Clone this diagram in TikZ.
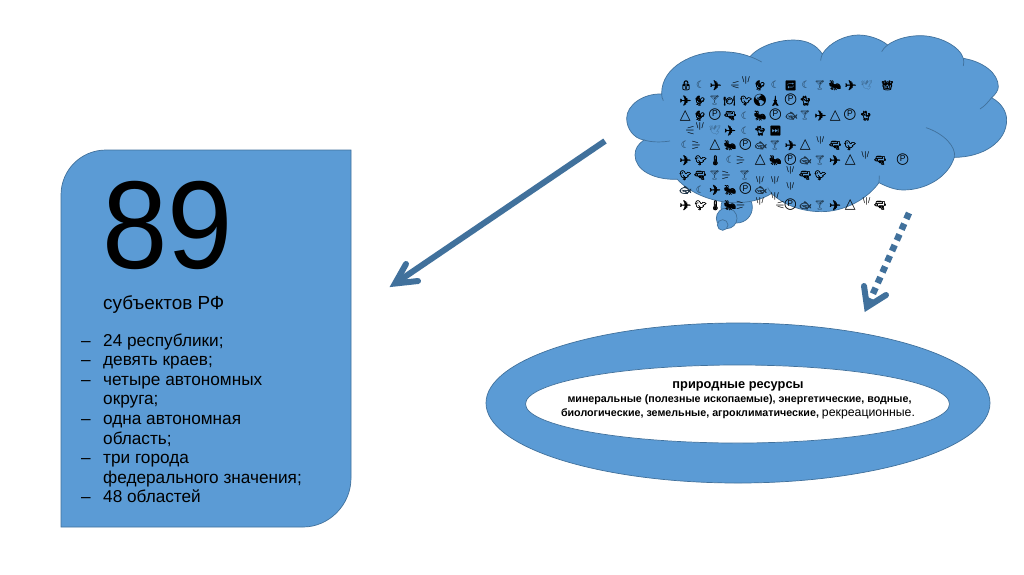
\documentclass[tikz,border=0pt]{standalone}
\usepackage{fontspec}
\setmainfont{Liberation Sans}
\newfontfamily\djv{DejaVu Sans}
\newfontfamily\djvb[FakeBold=1.5]{DejaVu Sans}
\newfontfamily\emo[FakeBold=2.2]{Noto Emoji}
\newfontfamily\emol{Noto Emoji}
\usetikzlibrary{arrows.meta}
\definecolor{fillblue}{HTML}{5B9BD5}
\definecolor{lineblue}{HTML}{41719C}
\newcommand{\Pl}{{\djvb\fontsize{14}{14}\selectfont ✈}}
\newcommand{\Mo}{{\color{black!55!lineblue}\djv\fontsize{10}{10}\selectfont ☾}}
\newcommand{\Tr}{{\djv\fontsize{14}{14}\selectfont △}}
\newcommand{\Pp}{{\ooalign{\hfil\raisebox{1.6pt}{\fontsize{8.5}{8.5}\selectfont P}\hfil\cr{\djv\fontsize{15}{15}\selectfont ○}\cr}}}
\newcommand{\Lk}{{\emo 🔓}}
\newcommand{\Rs}{{\emo 🐓}}
\newcommand{\Sw}{{\emo 🔁}}
\newcommand{\Gl}{{\color{black!55!lineblue}\emol 🍸}}
\newcommand{\Bu}{{\emo 🐜}}
\newcommand{\Dv}{{\color{lineblue}\emol 🕊}}
\newcommand{\Cr}{{\emo 👑}}
\newcommand{\Ca}{{\emo 🐈}}
\newcommand{\Pt}{{\emo 🍽}}
\newcommand{\Fe}{{\emo 🐦}}
\newcommand{\Ea}{{\emol\fontsize{12}{12}\selectfont 🌎}}
\newcommand{\To}{{\emo 🗼}}
\newcommand{\Gu}{{\emo 🔫}}
\newcommand{\Wi}{{\color{black!55!lineblue}\emo 🐟}}
\newcommand{\Ff}{{\emo ⏭}}
\newcommand{\Th}{{\emo 🌡}}
\newcommand{\Ry}{\textbackslash\kern0.5pt|\kern0.5pt/}
\newcommand{\Rz}{\rotatebox{-90}{\Ry}}
\tikzset{
  shapeblue/.style={fill=fillblue,draw=lineblue,line width=0.7pt},
  cloudline/.style={draw=lineblue,line width=0.7pt},
  gly/.style={inner sep=0pt,font=\fontsize{9.5}{10}\selectfont},
  ray/.style={inner sep=0pt,font=\fontsize{8}{8}\selectfont},
  txt/.style={inner sep=0pt,anchor=base west,font=\fontsize{17.2}{20}\selectfont},
  restxt/.style={inner sep=0pt,anchor=base,font=\fontsize{10.7}{12}\selectfont\bfseries},
  arrowline/.style={draw=lineblue,line width=6pt},
  arrowhead/.style={draw=lineblue,line width=6pt,line cap=round,line join=miter},
}
\begin{document}
\begin{tikzpicture}[x=1pt,y=-1pt]
\useasboundingbox (0,0) rectangle (1024,574);
\fill[white] (0,0) rectangle (1024,574);
% left box
\draw[shapeblue] (61,527) -- (61,195) .. controls (61,170) and (81,150) .. (106,150) -- (351,150) -- (351,478)
  .. controls (351,505) and (329,527) .. (303,527) -- cycle;
\node[inner sep=0,anchor=base west,font=\fontsize{125}{125}\selectfont] (num) at (102,268) {\scalebox{0.94}[1]{89}};
\node[txt,font=\fontsize{18.9}{22}\selectfont] (subj) at (103,309) {субъектов РФ};
\foreach \i/\yy/\d/\t in {1/346/–/24 республики;,2/365.6/–/девять краев;,3/385.2/–/четыре автономных,4/404.8//округа;,5/424.4/–/одна автономная,6/444//область;,7/463.6/–/три города,8/483.2//федерального значения;,9/502.8/–/48 областей}{
  \node[txt] (li\i) at (103,\yy) {\t};
  \node[txt] (da\i) at (81,\yy) {\d};
}
% ring
\path[shapeblue] (738,403) ellipse [x radius=252,y radius=80];
\path[draw=lineblue,line width=0.7pt,fill=white] (737.5,404) ellipse [x radius=212,y radius=39];
\node[restxt,font=\fontsize{12.8}{14}\selectfont\bfseries] (r1) at (738,388) {природные ресурсы};
\node[restxt] (r2) at (739.5,402) {минеральные (полезные ископаемые), энергетические, водные,};
\node[restxt] (r3) at (738,416) {биологические, земельные, агроклиматические, {\mdseries\fontsize{12.3}{14}\selectfont рекреационные.}};
% cloud
\begin{scope}[shift={(620,30)},x=0.3333pt,y=-0.3333pt]
\path[shapeblue] (350,532) circle [radius=47];
\path[shapeblue] (320,565) circle [radius=31];
\path[shapeblue] (308,585) circle [radius=16];
\path[shapeblue] (125,190) .. controls (125,110) and (220,65) .. (300,65)
  .. controls (340,65) and (370,72) .. (390,80)
  .. controls (420,45) and (480,30) .. (520,30) .. controls (560,30) and (590,45) .. (607,72)
  .. controls (630,35) and (680,15) .. (715,15) .. controls (750,15) and (785,30) .. (803,45)
  .. controls (830,25) and (870,17) .. (900,17) .. controls (960,17) and (1020,50) .. (1030,85)
  .. controls (1090,95) and (1135,130) .. (1135,170) .. controls (1135,180) and (1128,192) .. (1115,203)
  .. controls (1145,220) and (1160,245) .. (1160,270) .. controls (1160,335) and (1090,382) .. (1003,382)
  .. controls (985,440) and (920,480) .. (850,480) .. controls (825,480) and (800,470) .. (777,458)
  .. controls (740,510) and (670,545) .. (605,545) .. controls (545,545) and (490,525) .. (455,490)
  .. controls (425,510) and (385,518) .. (345,518) .. controls (280,518) and (210,490) .. (172,448)
  .. controls (100,450) and (45,420) .. (45,375) .. controls (45,355) and (55,342) .. (72,330)
  .. controls (40,325) and (20,295) .. (20,265) .. controls (20,225) and (70,190) .. (125,192) -- cycle;
\draw[cloudline] (125,192) .. controls (125,198) and (126,205) .. (130,212);
\draw[cloudline] (72,330) .. controls (90,336) and (120,338) .. (150,333);
\draw[cloudline] (390,80) .. controls (402,84) and (415,90) .. (425,96);
\draw[cloudline] (607,72) .. controls (604,78) and (603,84) .. (602,92);
\draw[cloudline] (803,45) .. controls (795,50) and (790,57) .. (785,65);
\draw[cloudline] (1030,85) .. controls (1032,92) and (1032,100) .. (1030,108);
\draw[cloudline] (1115,203) .. controls (1105,215) and (1095,228) .. (1080,237);
\draw[cloudline] (1003,382) .. controls (1010,350) and (970,310) .. (918,293);
\draw[cloudline] (777,458) .. controls (778,450) and (778,445) .. (778,437);
\draw[cloudline] (455,490) .. controls (450,485) and (447,480) .. (443,473);
\end{scope}
% glyphs
\begin{scope}[shift={(670,70)},x=0.3333pt,y=-0.3333pt]
\foreach \r/\yy/\lst in {
 a/46/{48/\Lk,92/\Mo,137/\Pl,270/\Rs,316/\Mo,362/\Sw,408/\Mo,450/\Gl,495/\Bu,542/\Pl,590/\Dv,652/\Cr},
 b/92/{46/\Pl,90/\Rs,134/\Gl,178/\Pt,228/\Fe,270/\Ea,316/\To,362/\Pp,406/\Ca},
 c/137/{46/\Tr,90/\Rs,135/\Pp,180/\Gu,226/\Mo,270/\Bu,316/\Pp,364/\Wi,405/\Gl,451/\Pl,496/\Tr,540/\Pp,587/\Ca},
 d/182/{135/\Dv,180/\Pl,226/\Mo,270/\Ca,316/\Ff},
 e/226/{46/\Mo,135/\Tr,180/\Bu,226/\Pp,272/\Wi,315/\Gl,362/\Pl,406/\Tr,495/\Gu,540/\Fe},
 f/271/{46/\Pl,92/\Fe,136/\Th,181/\Mo,271/\Tr,316/\Bu,361/\Pp,406/\Wi,450/\Gl,495/\Pl,541/\Tr,630/\Gu,698/\Pp},
 g/316/{46/\Fe,90/\Gu,134/\Gl,224/\Gl,405/\Gu,451/\Fe},
 h/360/{46/\Wi,91/\Mo,135/\Pl,180/\Bu,226/\Pp,272/\Wi},
 i/406/{46/\Pl,92/\Fe,136/\Th,180/\Bu,361/\Pp,406/\Wi,450/\Gl,495/\Pl,541/\Tr,630/\Gu}}{
  \foreach \xx/\g in \lst {
    \node[gly] (g\r\xx) at (\xx,\yy) {\g};
  }
}
\foreach \n/\xx/\yy in {p1/228/32,p2/451/212,p3/270/330,p4/315/330,p5/361/300,p6/361/348,p7/315/378,p8/270/393,p9/586/257,p10/590/393,p11/90/168}{
  \node[ray] (\n) at (\xx,\yy) {\Ry};
}
\foreach \n/\xx/\yy in {q1/195/46,q2/60/182,q3/330/406}{
  \node[ray] (\n) at (\xx,\yy) {\Rz};
}
\foreach \n/\xx/\yy in {s1/78/226,s2/212/271,s3/168/316,s4/212/406}{
  \node[ray] (\n) at (\xx,\yy) {\rotatebox{90}{\Ry}};
}
\end{scope}
% connectors
\coordinate (a1s) at (605,141);
\coordinate (a1t) at (395,283.5);
\coordinate (a1b) at (406,264);
\coordinate (a1c) at (418,281);
\coordinate (a2s) at (909,213);
\coordinate (a2t) at (867,307);
\coordinate (a2b) at (864,286);
\coordinate (a2c) at (886,295);
\draw[arrowline] (a1s) -- (a1t);
\draw[arrowhead] (a1b) -- (a1t) -- (a1c);
\draw[arrowline,line width=6.5pt,dash pattern=on 6.5pt off 5.2pt] (a2s) -- (a2t);
\draw[arrowhead] (a2b) -- (a2t) -- (a2c);
\end{tikzpicture}
\end{document}
